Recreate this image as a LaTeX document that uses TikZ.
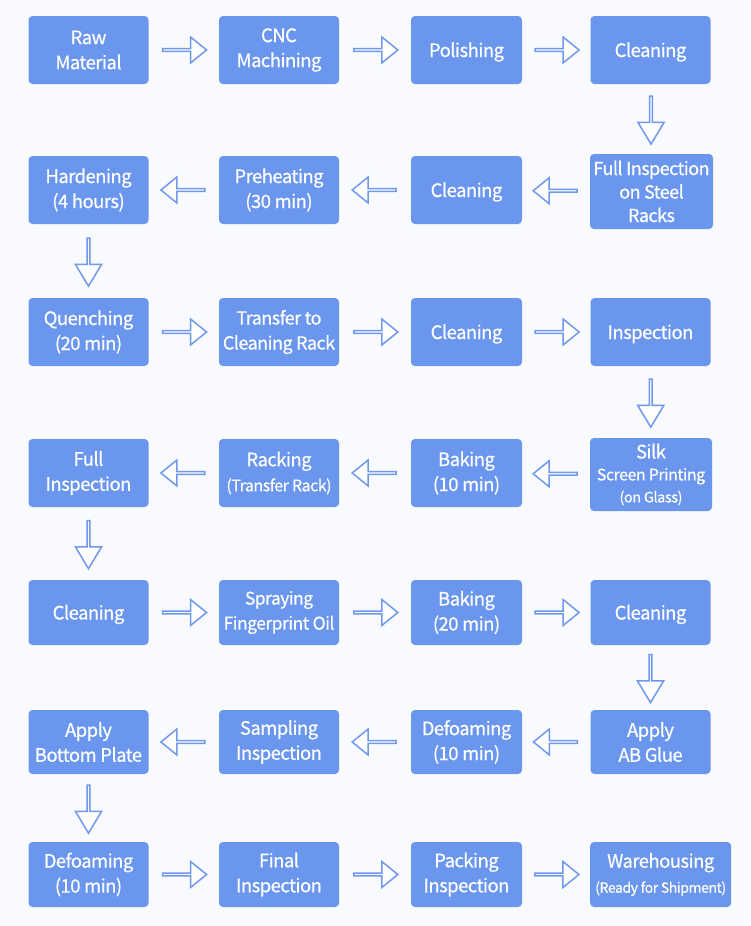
\documentclass[tikz,border=0pt]{standalone}
\usepackage{fontspec}
\setmainfont{Noto Sans CJK SC}[FakeBold=0.4, LetterSpace=-3]
\usetikzlibrary{shapes.arrows,calc}

\definecolor{boxblue}{HTML}{6B96EE}
\definecolor{arrowblue}{HTML}{6F98EE}
\definecolor{pagebg}{HTML}{F8FAFD}

\newcommand\subtxt[2]{{\fontsize{#1}{18}\selectfont #2}}

\tikzset{
  stepbox/.style={rectangle, rounded corners=4pt, fill=boxblue, text=white,
    minimum width=120pt, minimum height=68pt, align=center, inner sep=0.5pt,
    font=\fontsize{18.5}{25}\selectfont},
  narrowbox/.style={stepbox, minimum width=111pt},
  oneline/.style={text height=14pt, text depth=0pt},
  flowarrow/.style={single arrow, draw=arrowblue, fill=white, line width=1.5pt,
    minimum width=26pt, single arrow head extend=6.5pt, inner sep=0pt},
  rarrow/.style={flowarrow, minimum height=44pt, single arrow tip angle=78},
  larrow/.style={rarrow, shape border rotate=180},
  darrow/.style={flowarrow, minimum height=48pt, single arrow tip angle=62,
    shape border rotate=270},
}

\begin{document}
\begin{tikzpicture}[x=1pt,y=-1pt]
  \fill[pagebg] (0,0) rectangle (750,926);
  \useasboundingbox (0,0) rectangle (750,926);

  % row 1
  \node[stepbox] (raw) at (88.5,50) {Raw\\Material};
  \node[stepbox] (cnc) at (279,50) {CNC\\Machining};
  \node[narrowbox, oneline] (polish) at (466.5,50) {Polishing};
  \node[stepbox, oneline] (clean1) at (650.5,50) {Cleaning};

  % row 2
  \node[stepbox, minimum width=123pt, minimum height=75pt,
    font=\fontsize{18}{23.5}\selectfont] (fullrack) at (651.5,191.5)
    {Full Inspection\\on Steel\\Racks};
  \node[narrowbox, oneline] (clean2) at (466.5,190) {Cleaning};
  \node[stepbox] (preheat) at (279,190) {Preheating\\(30 min)};
  \node[stepbox] (harden) at (88.5,190) {Hardening\\(4 hours)};

  % row 3
  \node[stepbox] (quench) at (88.5,332) {Quenching\\(20 min)};
  \node[stepbox, font=\fontsize{18}{25}\selectfont] (transfer) at (279,332)
    {Transfer to\\Cleaning Rack};
  \node[narrowbox, oneline] (clean3) at (466.5,332) {Cleaning};
  \node[stepbox, oneline] (inspect) at (650.5,332) {Inspection};

  % row 4
  \node[stepbox, minimum width=122pt, minimum height=73pt] (silk) at (651,474.5)
    {Silk\\[-3pt]\subtxt{16}{Screen Printing}\\[-3pt]\subtxt{14.5}{(on Glass)}};
  \node[narrowbox] (bake1) at (466.5,473) {Baking\\(10 min)};
  \node[stepbox] (racking) at (279,473) {Racking\\\subtxt{16}{(Transfer Rack)}};
  \node[stepbox] (fullinsp) at (88.5,473) {Full\\Inspection};

  % row 5
  \node[stepbox, oneline, minimum height=65pt] (clean4) at (88.5,612.5) {Cleaning};
  \node[stepbox, minimum height=65pt, font=\fontsize{17.5}{25}\selectfont] (spray)
    at (279,612.5) {Spraying\\Fingerprint Oil};
  \node[narrowbox, minimum height=65pt] (bake2) at (466.5,612.5) {Baking\\(20 min)};
  \node[stepbox, oneline, minimum height=65pt] (clean5) at (650.5,612.5) {Cleaning};

  % row 6
  \node[stepbox, minimum height=64pt] (abglue) at (650.5,742) {Apply\\AB Glue};
  \node[narrowbox, minimum height=64pt] (defoam1) at (466.5,742) {Defoaming\\(10 min)};
  \node[stepbox, minimum height=64pt] (sampling) at (279,742) {Sampling\\Inspection};
  \node[stepbox, minimum height=64pt] (bottom) at (88.5,742) {Apply\\Bottom Plate};

  % row 7
  \node[stepbox, minimum height=65pt] (defoam2) at (88.5,874.5) {Defoaming\\(10 min)};
  \node[stepbox, minimum height=65pt] (final) at (279,874.5) {Final\\Inspection};
  \node[narrowbox, minimum height=65pt] (packing) at (466.5,874.5) {Packing\\Inspection};
  \node[stepbox, minimum width=141pt, minimum height=65pt, anchor=west] (warehouse)
    at (590,874.5) {Warehousing\\\subtxt{14}{(Ready for Shipment)}};

  % arrows
  \node[rarrow] at ($(raw.east)!0.5!(cnc.west)$) {};
  \node[rarrow] at ($(cnc.east)!0.5!(polish.west)$) {};
  \node[rarrow] at ($(polish.east)!0.5!(clean1.west)$) {};
  \node[darrow] at ($(clean1.south)!0.5!(fullrack.north)$) {};
  \node[larrow] at ($(fullrack.west)!0.5!(clean2.east)$) {};
  \node[larrow] at ($(clean2.west)!0.5!(preheat.east)$) {};
  \node[larrow] at ($(preheat.west)!0.5!(harden.east)$) {};
  \node[darrow] at ($(harden.south)!0.5!(quench.north)$) {};
  \node[rarrow] at ($(quench.east)!0.5!(transfer.west)$) {};
  \node[rarrow] at ($(transfer.east)!0.5!(clean3.west)$) {};
  \node[rarrow] at ($(clean3.east)!0.5!(inspect.west)$) {};
  \node[darrow] at ($(inspect.south)!0.5!(silk.north)$) {};
  \node[larrow] at ($(silk.west)!0.5!(bake1.east)$) {};
  \node[larrow] at ($(bake1.west)!0.5!(racking.east)$) {};
  \node[larrow] at ($(racking.west)!0.5!(fullinsp.east)$) {};
  \node[darrow] at ($(fullinsp.south)!0.5!(clean4.north)$) {};
  \node[rarrow] at ($(clean4.east)!0.5!(spray.west)$) {};
  \node[rarrow] at ($(spray.east)!0.5!(bake2.west)$) {};
  \node[rarrow] at ($(bake2.east)!0.5!(clean5.west)$) {};
  \node[darrow] at ($(clean5.south)!0.5!(abglue.north)$) {};
  \node[larrow] at ($(abglue.west)!0.5!(defoam1.east)$) {};
  \node[larrow] at ($(defoam1.west)!0.5!(sampling.east)$) {};
  \node[larrow] at ($(sampling.west)!0.5!(bottom.east)$) {};
  \node[darrow] at ($(bottom.south)!0.5!(defoam2.north)$) {};
  \node[rarrow] at ($(defoam2.east)!0.5!(final.west)$) {};
  \node[rarrow] at ($(final.east)!0.5!(packing.west)$) {};
  \node[rarrow] at ($(packing.east)!0.5!(warehouse.west)$) {};
\end{tikzpicture}
\end{document}
